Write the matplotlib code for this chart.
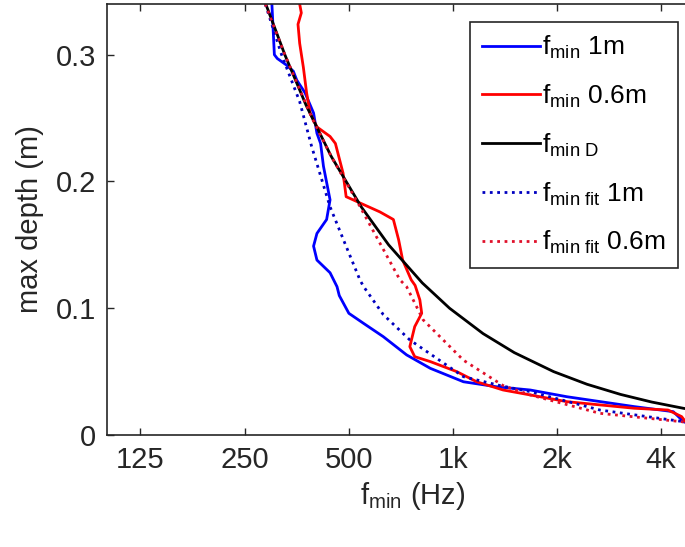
import numpy as np
import matplotlib
matplotlib.use('Agg')
import matplotlib.pyplot as plt

# 폰트 설정 (MATLAB 느낌의 Helvetica 계열)
plt.rcParams['font.family'] = ['Liberation Sans', 'DejaVu Sans']
plt.rcParams['mathtext.fontset'] = 'custom'
plt.rcParams['mathtext.rm'] = 'Liberation Sans'
plt.rcParams['mathtext.it'] = 'Liberation Sans:italic'

# f_min 1m (측정값)
f_1m = [300, 305, 311, 330, 346, 354, 374, 396, 405, 415, 423, 442, 432, 405, 396, 405, 442, 463,
        470, 501, 553, 630, 736, 862, 1075, 1345, 1677, 2141, 3354, 4350, 4663, 4900]
d_1m = [0.34, 0.30, 0.297, 0.292, 0.287, 0.28, 0.27, 0.254, 0.238, 0.23, 0.212, 0.1855, 0.17, 0.159,
        0.149, 0.138, 0.128, 0.117, 0.11, 0.096, 0.088, 0.0776, 0.0632, 0.0526, 0.042, 0.038, 0.0355,
        0.0302, 0.0224, 0.0184, 0.0105, 0.008]

# f_min 0.6m (측정값)
f_06m = [361, 365, 357, 361, 370, 378, 387, 405, 442, 458, 482, 492, 540, 616, 674, 698, 717, 759,
         779, 804, 814, 777, 752, 777, 862, 1028, 1174, 1400, 1677, 2141, 3354, 4200, 4600, 4760, 4900]
d_06m = [0.34, 0.333, 0.324, 0.309, 0.29, 0.27, 0.254, 0.243, 0.2355, 0.23, 0.2066, 0.188, 0.183,
         0.176, 0.17, 0.154, 0.138, 0.1224, 0.118, 0.1066, 0.096, 0.0855, 0.0697, 0.0618, 0.0579,
         0.050, 0.042, 0.0355, 0.0316, 0.0263, 0.0211, 0.0197, 0.0145, 0.0092, 0.007]

# f_min D (이론 곡선, 그림에서 읽은 값)
f_D = [288, 327, 377, 445, 544, 653, 817, 980, 1225, 1508, 1960, 2450, 3063, 3769, 4667, 5765]
d_D = [0.34, 0.30, 0.26, 0.22, 0.18, 0.15, 0.12, 0.10, 0.08, 0.065, 0.05, 0.04, 0.032, 0.026, 0.021, 0.017]

# f_min fit 1m
f_fit1 = [287, 320, 361, 391, 442, 490, 540, 553, 630, 752, 1075, 1371, 1677, 2669, 4663, 4900]
d_fit1 = [0.34, 0.30, 0.263, 0.2276, 0.18, 0.15, 0.122, 0.117, 0.095, 0.075, 0.046, 0.039, 0.0342,
          0.0197, 0.0105, 0.0095]

# f_min fit 0.6m
f_fit06 = [287, 327, 392, 445, 540, 620, 704, 736, 822, 1075, 1400, 1677, 2669, 4600, 4900]
d_fit06 = [0.34, 0.30, 0.25, 0.22, 0.18, 0.15, 0.1224, 0.117, 0.0908, 0.059, 0.039, 0.0316, 0.0171,
           0.0105, 0.009]

xticks = [125, 250, 500, 1000, 2000, 4000]
xticklabels = ['125', '250', '500', '1k', '2k', '4k']
yticks = [0, 0.1, 0.2, 0.3]
yticklabels = ['0', '0.1', '0.2', '0.3']

fig = plt.figure(figsize=(6.85, 5.47), dpi=100)
ax = fig.add_axes([107/685, 112/547, 612/685, 431/547])  # 오른쪽은 그림 밖으로 잘림

lw = 2.0
ax.plot(f_1m, d_1m, color='#0000ff', lw=lw, label=r'f$_{\rm min}$ 1m')
ax.plot(f_06m, d_06m, color='#ff0000', lw=lw, label=r'f$_{\rm min}$ 0.6m')
ax.plot(f_D, d_D, color='black', lw=lw, label=r'f$_{\rm min\ D}$')
ax.plot(f_fit1, d_fit1, color='#0000c0', lw=lw, ls=':', label=r'f$_{\rm min\ fit}$ 1m')
ax.plot(f_fit06, d_fit06, color='#e0102a', lw=lw, ls=':', label=r'f$_{\rm min\ fit}$ 0.6m')

ax.set_xscale('log')
ax.set_xlim(100, 5900)
ax.set_ylim(0, 0.34)
ax.set_xticks(xticks)
ax.set_xticklabels(xticklabels)
ax.xaxis.set_minor_locator(matplotlib.ticker.NullLocator())
ax.set_yticks(yticks)
ax.set_yticklabels(yticklabels)

grey = '#262626'
ax.tick_params(direction='in', length=5, width=1, top=True, right=False,
               labelsize=21, colors=grey, pad=8)
for s in ax.spines.values():
    s.set_color(grey)
    s.set_linewidth(1.2)

ax.set_xlabel(r'f$_{\rm min}$ (Hz)', fontsize=21, color=grey, labelpad=4)
ax.set_ylabel('max depth (m)', fontsize=21, color=grey, labelpad=8)

leg = ax.legend(loc='upper right', bbox_to_anchor=(678/685, 1 - 22/547), bbox_transform=fig.transFigure,
                fontsize=19, handlelength=2.2, handletextpad=0.1, labelspacing=0.82,
                borderpad=0.45, borderaxespad=0, fancybox=False, framealpha=1)
leg.get_frame().set_edgecolor(grey)
leg.get_frame().set_linewidth(1.2)

fig.savefig('out.png', dpi=100)
